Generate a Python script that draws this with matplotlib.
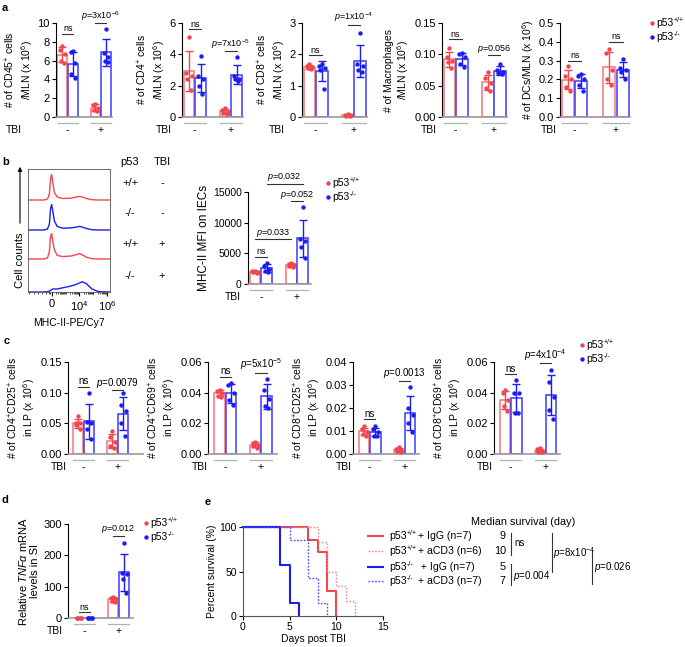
import numpy as np
import matplotlib
matplotlib.use('Agg')
import matplotlib.pyplot as plt

plt.rcParams['font.family'] = ['Liberation Sans', 'DejaVu Sans']
plt.rcParams['mathtext.fontset'] = 'custom'
plt.rcParams['mathtext.rm'] = 'Liberation Sans'
plt.rcParams['mathtext.it'] = 'Liberation Sans:italic'
plt.rcParams['font.size'] = 7.5

RED = '#f2464c'
RED_EDGE = '#f47479'
BLUE = '#1c1cf5'
BLUE_EDGE = '#3a3aff'
GREY = '#9a9a9a'
W, H = 685, 647

# group order: p53+/+ TBI-, p53-/- TBI-, p53+/+ TBI+, p53-/- TBI+
tbi_labels = ['-', '+']

cd45 = [[7.6, 7.1, 6.7, 6.0, 5.7], [7.0, 6.9, 5.7, 4.6, 4.2],
        [1.4, 1.3, 1.0, 0.7, 0.6], [9.4, 6.8, 6.4, 6.0, 5.9]]
cd4 = [[5.1, 2.8, 2.6, 2.4, 1.7], [3.9, 2.6, 2.4, 2.0, 1.5],
       [0.6, 0.45, 0.35, 0.25, 0.2], [3.8, 2.6, 2.4, 2.4, 2.3]]
cd8 = [[1.68, 1.63, 1.6, 1.57, 1.52], [1.7, 1.62, 1.55, 1.5, 0.9],
       [0.08, 0.06, 0.05, 0.04, 0.03], [2.67, 1.7, 1.62, 1.5, 1.45]]
macro = [[0.11, 0.095, 0.09, 0.088, 0.078], [0.102, 0.101, 0.095, 0.085, 0.08],
         [0.072, 0.062, 0.055, 0.047, 0.042], [0.085, 0.075, 0.072, 0.07, 0.068]]
dcs = [[0.27, 0.22, 0.2, 0.16, 0.14], [0.23, 0.22, 0.2, 0.17, 0.14],
       [0.36, 0.34, 0.25, 0.2, 0.17], [0.31, 0.26, 0.25, 0.24, 0.2]]
mhc = [[2200, 2100, 2000, 1900, 1800], [3400, 3000, 2500, 2200, 1900],
       [3500, 3300, 3100, 2900, 2700], [12500, 7400, 7000, 6000, 4300]]
cd4cd25 = [[0.062, 0.05, 0.05, 0.047, 0.04], [0.1, 0.052, 0.05, 0.04, 0.025],
           [0.038, 0.028, 0.02, 0.013, 0.01], [0.1, 0.08, 0.07, 0.05, 0.03]]
cd4cd69 = [[0.042, 0.041, 0.04, 0.038, 0.037], [0.046, 0.045, 0.04, 0.035, 0.032],
           [0.008, 0.007, 0.006, 0.005, 0.004], [0.049, 0.042, 0.036, 0.031, 0.03]]
cd8cd25 = [[0.012, 0.011, 0.0095, 0.0085, 0.008], [0.012, 0.011, 0.0095, 0.008, 0.008],
           [0.003, 0.0022, 0.0016, 0.0012, 0.001], [0.029, 0.02, 0.017, 0.0135, 0.0095]]
cd8cd69 = [[0.042, 0.04, 0.035, 0.031, 0.028], [0.048, 0.04, 0.04, 0.027, 0.027],
           [0.004, 0.003, 0.002, 0.0012, 0.001], [0.055, 0.047, 0.037, 0.029, 0.023]]
tnfa = [[1, 1, 1, 1, 1], [1, 1, 1, 1, 1],
        [68, 65, 60, 55, 50], [240, 145, 140, 125, 80]]

# flow histograms (x in display units: 0 -> "0", 1 -> 10^4, 2 -> 10^6)
hist_x = [-0.85, -0.3, -0.15, -0.08, -0.04, 0.0, 0.04, 0.1, 0.2, 0.4, 0.7,
          0.9, 1.0, 1.1, 1.25, 1.45, 1.7, 2.1]
hist_wt_m = [0, 0, 0.03, 0.2, 0.7, 0.85, 0.6, 0.25, 0.1, 0.05, 0.06, 0.1, 0.12, 0.1, 0.05, 0.01, 0, 0]
hist_ko_m = [0, 0, 0.03, 0.2, 0.7, 0.85, 0.65, 0.3, 0.12, 0.06, 0.07, 0.1, 0.12, 0.1, 0.05, 0.01, 0, 0]
hist_wt_p = [0, 0, 0.03, 0.25, 0.75, 0.85, 0.6, 0.3, 0.12, 0.08, 0.1, 0.15, 0.18, 0.14, 0.06, 0.01, 0, 0]
hist_ko_p = [0, 0, 0.01, 0.03, 0.05, 0.08, 0.1, 0.1, 0.1, 0.14, 0.2, 0.26, 0.3, 0.34, 0.28, 0.1, 0.01, 0]

# survival
days_wt_igg = [0, 7, 8, 9, 10]
surv_wt_igg = [100, 85.7, 71.4, 28.6, 0]
days_wt_cd3 = [0, 8, 9, 10, 11, 12]
surv_wt_cd3 = [100, 83.3, 50, 33.3, 16.7, 0]
days_ko_igg = [0, 4, 5, 6]
surv_ko_igg = [100, 57.1, 14.3, 0]
days_ko_cd3 = [0, 5, 7, 8, 9]
surv_ko_cd3 = [100, 85.7, 42.9, 14.3, 0]
km_geno = ['+/+', '+/+', '-/-', '-/-']
km_treat = ['+ IgG (n=7)', '+ aCD3 (n=6)', ' + IgG (n=7)', '+ aCD3 (n=7)']
km_median = ['9', '10', '5', '7']

XPOS = np.array([0, 1, 3.1, 4.1])
JIT = np.array([0.0, -0.22, 0.22, -0.15, 0.15])

fig = plt.figure(figsize=(W / 100, H / 100), dpi=100)
ov = fig.add_axes([0, 0, 1, 1])
ov.set_xlim(0, W)
ov.set_ylim(H, 0)
ov.axis('off')
ov.set_zorder(10)


def px_axes(l, t, r, b):
    return fig.add_axes([l / W, 1 - b / H, (r - l) / W, (b - t) / H])


def sig(ax, i, j, y, text, fs):
    ax.plot([XPOS[i], XPOS[j]], [y, y], color='#333333', lw=0.8, clip_on=False)
    ax.annotate(text, ((XPOS[i] + XPOS[j]) / 2, y), xytext=(0, 0.3),
                textcoords='offset points', ha='center', va='bottom', fontsize=fs,
                annotation_clip=False)


def bar_panel(box, data, ylim, yticks, ylabel, sigs, tbi_x, ticklabels=None,
              xlim=(-0.6, 4.65), tick_fs=8, lab_fs=7.5, sig_fs=6.5):
    l, t, r, b = box
    h = b - t
    ax = px_axes(*box)
    for i, vals in enumerate(data):
        c, ec = (RED, RED_EDGE) if i % 2 == 0 else (BLUE, BLUE_EDGE)
        m = np.mean(vals)
        sd = np.std(vals, ddof=1)
        ax.bar(XPOS[i], m, width=0.92, facecolor='white', edgecolor=ec, lw=1.1, zorder=2)
        ax.errorbar(XPOS[i], m, yerr=sd, color=c, capsize=3, lw=1, capthick=1, zorder=3)
        ax.scatter(XPOS[i] + JIT[:len(vals)], vals, s=10, color=c, zorder=4,
                   clip_on=False, linewidths=0)
    ax.set_xlim(*xlim)
    ax.set_ylim(*ylim)
    ax.set_yticks(yticks)
    if ticklabels is not None:
        ax.set_yticklabels(ticklabels)
    ax.set_xticks([])
    for s in ['top', 'right']:
        ax.spines[s].set_visible(False)
    ax.spines['left'].set_linewidth(0.8)
    ax.spines['bottom'].set_color(GREY)
    ax.spines['bottom'].set_linewidth(1.2)
    ax.tick_params(axis='y', length=3, width=0.8, pad=1.5, labelsize=tick_fs)
    ax.set_ylabel(ylabel, labelpad=2, linespacing=1.15, fontsize=lab_fs)
    tr = ax.get_xaxis_transform()
    for g in range(2):
        x0 = XPOS[2 * g] - 0.45
        x1 = XPOS[2 * g + 1] + 0.45
        ax.plot([x0, x1], [-6 / h, -6 / h], color='#b0b0b0', lw=0.9, transform=tr, clip_on=False)
        ax.text((x0 + x1) / 2, -13 / h, tbi_labels[g], transform=tr, ha='center', va='center')
    ov.text(tbi_x, b + 13, 'TBI', ha='right', va='center')
    for s_ in sigs:
        sig(ax, *s_, fs=sig_fs)
    return ax


def legend_dots(x, y, dy=13.5):
    for k, (c, sup) in enumerate([(RED, '+/+'), (BLUE, '-/-')]):
        yy = y + k * dy
        ov.scatter([x], [yy], s=10, color=c, linewidths=0)
        ov.text(x + 4, yy, 'p53', va='center', fontsize=7.5)
        ov.text(x + 21.5, yy - 2.5, sup, va='center', fontsize=5)


# ---- panel a ----
ov.text(2, 8, 'a', fontweight='bold', fontsize=8, va='center')
bar_panel((56, 23, 112, 117), cd45, (0, 10), [0, 2, 4, 6, 8, 10],
          '# of CD45$^{+}$ cells\n/MLN (x 10$^{6}$)',
          [(0, 1, 8.86, 'ns'), (2, 3, 10.0, '$\\it{p}$=3x10$^{-6}$')], 22)
bar_panel((182, 23, 243, 117), cd4, (0, 6), [0, 2, 4, 6],
          '# of CD4$^{+}$ cells\n/MLN (x 10$^{6}$)',
          [(0, 1, 5.6, 'ns'), (2, 3, 4.2, '$\\it{p}$=7x10$^{-5}$')], 172)
bar_panel((302, 23, 367, 117), cd8, (0, 3), [0, 1, 2, 3],
          '# of CD8$^{+}$ cells\n/MLN (x 10$^{6}$)',
          [(0, 1, 1.98, 'ns'), (2, 3, 2.95, '$\\it{p}$=1x10$^{-4}$')], 285)
bar_panel((442, 23, 507, 117), macro, (0, 0.15), [0, 0.05, 0.10, 0.15],
          '# of Macrophages\n/MLN (x 10$^{6}$)',
          [(0, 1, 0.124, 'ns'), (2, 3, 0.099, '$\\it{p}$=0.056')], 437,
          ['0.00', '0.05', '0.10', '0.15'])
bar_panel((560, 23, 630, 117), dcs, (0, 0.5), [0, 0.1, 0.2, 0.3, 0.4, 0.5],
          '# of DCs/MLN (x 10$^{6}$)',
          [(0, 1, 0.30, 'ns'), (2, 3, 0.40, 'ns')], 557,
          ['0.0', '0.1', '0.2', '0.3', '0.4', '0.5'])
legend_dots(652, 23)

# ---- panel b ----
ov.text(2, 162, 'b', fontweight='bold', fontsize=8, va='center')
hx = px_axes(28, 169, 110, 292)
bases = [92, 62, 33, 0]
for curve, c, base in zip([hist_wt_m, hist_ko_m, hist_wt_p, hist_ko_p],
                          [RED, BLUE, RED, BLUE], bases):
    hx.plot(hist_x, base + np.array(curve) * 30, color=c, lw=1.0)
hx.set_xlim(-0.85, 2.1)
hx.set_ylim(0, 123)
hx.set_yticks([])
hx.set_xticks([0, 1, 2])
hx.set_xticklabels(['0', '10$^{4}$', '10$^{6}$'])
minor = [(np.log10(k * 10.0 ** n) - 4) / 2 + 1 for n in range(2, 6) for k in range(1, 10)]
minor = [m for m in minor if 0.05 < m < 2.1]
hx.set_xticks(minor + [-0.05, -0.1, -0.2, -0.35, -0.5, -0.65, -0.8], minor=True)
hx.tick_params(axis='x', which='major', length=3, width=0.8, pad=2, labelsize=8)
hx.tick_params(axis='x', which='minor', length=1.5, width=0.5)
for s in hx.spines.values():
    s.set_linewidth(0.6)
    s.set_color('#555555')
hx.set_xlabel('MHC-II-PE/Cy7', labelpad=4)
ov.annotate('', xy=(20, 164), xytext=(20, 226),
            arrowprops=dict(arrowstyle='-|>', color='black', lw=0.8, mutation_scale=6))
ov.text(20, 260, 'Cell counts', rotation=90, ha='center', va='center', fontsize=8)
ov.text(130, 162, 'p53', ha='center', va='center', fontsize=8)
ov.text(162, 162, 'TBI', ha='center', va='center', fontsize=8)
for y, p, t in zip([183, 213, 244, 276], ['+/+', '-/-', '+/+', '-/-'], ['-', '-', '+', '+']):
    ov.text(130, y, p, ha='center', va='center', fontsize=8)
    ov.text(162, y, t, ha='center', va='center', fontsize=8)

bar_panel((248, 192, 311, 284), mhc, (0, 15000), [0, 5000, 10000, 15000],
          'MHC-II MFI on IECs',
          [(0, 1, 4480, 'ns'), (0, 2, 7340, '$\\it{p}$=0.033'),
           (2, 3, 13490, '$\\it{p}$=0.052'), (1, 3, 16350, '$\\it{p}$=0.032')], 241,
          xlim=(-0.6, 4.8), tick_fs=7.5, lab_fs=8.5)
legend_dots(328, 183)

# ---- panel c ----
ov.text(4, 341, 'c', fontweight='bold', fontsize=8, va='center')
bar_panel((68, 362, 143, 454), cd4cd25, (0, 0.15), [0, 0.05, 0.10, 0.15],
          '# of CD4$^{+}$CD25$^{+}$ cells\nin LP (x 10$^{6}$)',
          [(0, 1, 0.1095, 'ns'), (2, 3, 0.104, '$\\it{p}$=0.0079')], 67,
          ['0.00', '0.05', '0.10', '0.15'], xlim=(-0.9, 5.9), sig_fs=7)
bar_panel((208, 362, 277, 454), cd4cd69, (0, 0.06), [0, 0.02, 0.04, 0.06],
          '# of CD4$^{+}$CD69$^{+}$ cells\nin LP (x 10$^{6}$)',
          [(0, 1, 0.0503, 'ns'), (2, 3, 0.053, '$\\it{p}$=5x10$^{-5}$')], 208,
          ['0.00', '0.02', '0.04', '0.06'], xlim=(-1.0, 5.0), sig_fs=7)
bar_panel((353, 362, 419, 454), cd8cd25, (0, 0.04), [0, 0.01, 0.02, 0.03, 0.04],
          '# of CD8$^{+}$CD25$^{+}$ cells\nin LP (x 10$^{6}$)',
          [(0, 1, 0.0151, 'ns'), (2, 3, 0.0318, '$\\it{p}$=0.0013')], 352,
          ['0.00', '0.01', '0.02', '0.03', '0.04'], xlim=(-1.0, 4.9), sig_fs=7)
bar_panel((494, 362, 560, 454), cd8cd69, (0, 0.06), [0, 0.02, 0.04, 0.06],
          '# of CD8$^{+}$CD69$^{+}$ cells\nin LP (x 10$^{6}$)',
          [(0, 1, 0.052, 'ns'), (2, 3, 0.0594, '$\\it{p}$=4x10$^{-4}$')], 493,
          ['0.00', '0.02', '0.04', '0.06'], xlim=(-1.0, 4.9), sig_fs=7)
legend_dots(582, 345)

# ---- panel d ----
ov.text(2, 500, 'd', fontweight='bold', fontsize=8, va='center')
bar_panel((68, 524, 133, 618), tnfa, (0, 300), [0, 100, 200, 300],
          'Relative $\\it{TNF\\alpha}$ mRNA\nlevels in SI',
          [(0, 1, 19, 'ns'), (2, 3, 262, '$\\it{p}$=0.012')], 63, xlim=(-1.0, 4.9),
          lab_fs=8)
legend_dots(146, 523)

# ---- panel e ----
ov.text(205, 502, 'e', fontweight='bold', fontsize=8, va='center')
ex = px_axes(243, 527, 383, 616)
km = [(days_wt_igg, surv_wt_igg, RED, '-', 1.5),
      (days_wt_cd3, surv_wt_cd3, '#f58a8e', (0, (1.2, 1.2)), 1.0),
      (days_ko_igg, surv_ko_igg, BLUE, '-', 1.5),
      (days_ko_cd3, surv_ko_cd3, '#4a4aff', (0, (1.2, 1.2)), 1.0)]
for d, s, c, ls, lw in km:
    ex.step(d, s, where='post', color=c, ls=ls, lw=lw, clip_on=False)
ex.set_xlim(0, 15)
ex.set_ylim(0, 100)
ex.set_xticks([0, 5, 10, 15])
ex.set_yticks([0, 50, 100])
for s in ['top', 'right']:
    ex.spines[s].set_visible(False)
for s in ['left', 'bottom']:
    ex.spines[s].set_linewidth(0.8)
    ex.spines[s].set_color('#555555')
ex.tick_params(length=3, width=0.8, pad=1.5)
ex.set_xlabel('Days post TBI', labelpad=1)
ex.set_ylabel('Percent survival (%)', labelpad=2)

ov.text(523, 522, 'Median survival (day)', ha='center', va='center', fontsize=7.8)
for k, (y, (d, s, c, ls, lw)) in enumerate(zip([536, 551, 567, 581], km)):
    ov.plot([368, 383], [y, y], color=c, ls=ls, lw=lw)
    ov.text(389, y, 'p53', va='center', fontsize=7.6)
    ov.text(406.5, y - 2.5, km_geno[k], va='center', fontsize=5)
    ov.text(418, y, km_treat[k], va='center', fontsize=7.6)
    ov.text(506, y, km_median[k], va='center', ha='right', fontsize=7.8)
ov.plot([511, 511], [533, 555], color='#333333', lw=0.8)
ov.text(514, 543, 'ns', va='center', fontsize=7)
ov.plot([511, 511], [564, 585], color='#333333', lw=0.8)
ov.text(513, 576, '$\\it{p}$=0.004', va='center', fontsize=7)
ov.plot([552, 552], [533, 572], color='#333333', lw=0.8)
ov.text(553, 553, '$\\it{p}$=8x10$^{-4}$', va='center', fontsize=7)
ov.plot([592, 592], [550, 584], color='#333333', lw=0.8)
ov.text(594, 567, '$\\it{p}$=0.026', va='center', fontsize=7)

fig.savefig('out.png', dpi=100)
